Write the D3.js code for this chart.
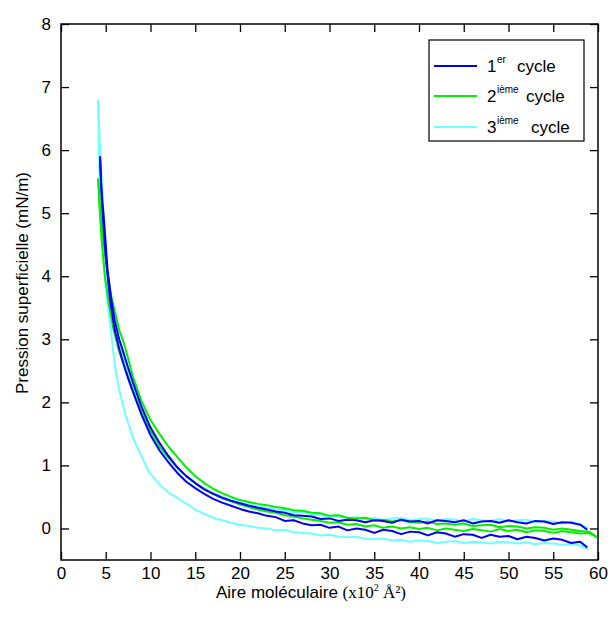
<!DOCTYPE html>
<html><head><meta charset="utf-8">
<script src="https://cdn.jsdelivr.net/npm/d3@7"></script>
<style>body{margin:0;background:#fff}svg{display:block}</style>
</head><body>
<svg id="chart" width="612" height="617"></svg>
<script>
// ---- data ----
const xTicks = [0,5,10,15,20,25,30,35,40,45,50,55,60];
const yTicks = [0,1,2,3,4,5,6,7,8];
const seriesNames = ["1er cycle","2ième cycle","3ième cycle"];
const seriesColors = ["#0000ff","#00f000","#70ffff"];

// cycle 1 (blue)
const cycle1Compression = [[4.36,5.9],[4.5,5.4],[4.8,4.9],[5.2,4.1],[5.6,3.65],[6,3.3],[6.5,3.0],[7,2.78],[7.5,2.55],[8,2.33],[9,1.93],[10,1.6],[11,1.36],[12,1.15],[13,0.97],[14,0.83],[15,0.72],[16,0.62],[17,0.55],[18,0.49],[19,0.44],
 [20,0.40],[21,0.36],[22,0.33],[23,0.30],[24,0.27],[25,0.25],[26,0.21],[27,0.20],[28,0.19],[29,0.15],[30,0.16],[31,0.12],[32,0.14],[33,0.13],[34,0.10],[35,0.13],[36,0.12],[37,0.09],[38,0.14],[39,0.11],[40,0.12],[41,0.08],[42,0.13],[43,0.12],[44,0.10],[45,0.13],[46,0.08],[47,0.11],[48,0.12],[49,0.09],[50,0.13],[51,0.10],[52,0.08],[53,0.12],[54,0.11],[55,0.07],[56,0.10],[57,0.09],[58,0.06],[58.8,-0.02]];
const cycle1Expansion = [[4.36,5.9],[4.6,5.1],[5,4.3],[5.5,3.6],[6,3.15],[6.5,2.85],[7,2.6],[7.5,2.38],[8,2.18],[9,1.8],[10,1.48],[11,1.24],[12,1.05],[13,0.88],[14,0.74],[15,0.64],[16,0.55],[17,0.47],[18,0.41],[19,0.36],
 [20,0.31],[21,0.27],[22,0.24],[23,0.20],[24,0.18],[25,0.12],[26,0.13],[27,0.08],[28,0.05],[29,0.06],[30,0.01],[31,0.03],[32,-0.03],[33,0.0],[34,-0.02],[35,-0.07],[36,-0.02],[37,-0.04],[38,-0.09],[39,-0.05],[40,-0.06],[41,-0.11],[42,-0.06],[43,-0.08],[44,-0.13],[45,-0.09],[46,-0.10],[47,-0.15],[48,-0.10],[49,-0.13],[50,-0.12],[51,-0.17],[52,-0.13],[53,-0.15],[54,-0.19],[55,-0.16],[56,-0.18],[57,-0.23],[58,-0.21],[58.8,-0.30]];

// cycle 2 (green)
const cycle2Compression = [[4.15,5.55],[4.4,5.0],[4.8,4.5],[5.2,4.05],[5.6,3.7],[6,3.45],[6.5,3.15],[7,2.95],[7.5,2.7],[8,2.42],[9,2.02],[10,1.72],[11,1.5],[12,1.3],[13,1.13],[14,0.97],[15,0.83],[16,0.72],[17,0.63],[18,0.56],[19,0.5],
 [20,0.45],[21,0.42],[22,0.39],[23,0.37],[24,0.34],[25,0.32],[26,0.29],[27,0.28],[28,0.25],[29,0.24],[30,0.20],[31,0.21],[32,0.17],[33,0.16],[34,0.17],[35,0.13],[36,0.14],[37,0.11],[38,0.13],[39,0.10],[40,0.09],[41,0.11],[42,0.07],[43,0.08],[44,0.06],[45,0.08],[46,0.04],[47,0.05],[48,0.06],[49,0.02],[50,0.04],[51,0.03],[52,0.0],[53,0.02],[54,0.01],[55,-0.02],[56,0.0],[57,-0.02],[58,-0.04],[59,-0.05],[59.9,-0.14]];
const cycle2Expansion = [[4.15,5.55],[4.3,5.1],[4.55,4.55],[4.9,4.0],[5.3,3.6],[5.8,3.2],[6.5,2.8],[7,2.6],[8,2.2],[9,1.85],[10,1.55],[11,1.3],[12,1.12],[13,0.96],[14,0.83],[15,0.72],[16,0.63],[17,0.55],[18,0.48],[19,0.43],
 [20,0.38],[21,0.34],[22,0.30],[23,0.27],[24,0.25],[25,0.21],[26,0.19],[27,0.16],[28,0.14],[29,0.12],[30,0.09],[31,0.10],[32,0.06],[33,0.07],[34,0.03],[35,0.05],[36,0.01],[37,0.03],[38,0.0],[39,0.02],[40,-0.01],[41,0.01],[42,-0.03],[43,0.0],[44,-0.02],[45,-0.04],[46,-0.01],[47,-0.03],[48,-0.05],[49,-0.01],[50,-0.04],[51,-0.02],[52,-0.06],[53,-0.03],[54,-0.04],[55,-0.07],[56,-0.04],[57,-0.06],[58,-0.08],[59,-0.07],[59.9,-0.14]];

// cycle 3 (cyan)
const cycle3Compression = [[4.15,6.8],[4.3,6.2],[4.45,5.8],[4.8,4.85],[5.3,3.84],[5.8,3.35],[6.5,2.9],[7,2.7],[7.5,2.47],[8,2.25],[9,1.87],[10,1.55],[11,1.31],[12,1.12],[13,0.96],[14,0.83],[15,0.72],[16,0.63],[17,0.56],[18,0.5],[19,0.45],
 [20,0.41],[21,0.38],[22,0.35],[23,0.33],[24,0.30],[25,0.29],[26,0.25],[27,0.26],[28,0.22],[29,0.21],[30,0.19],[31,0.20],[32,0.16],[33,0.18],[34,0.15],[35,0.17],[36,0.13],[37,0.16],[38,0.17],[39,0.13],[40,0.15],[41,0.16],[42,0.12],[43,0.15],[44,0.14],[45,0.11],[46,0.15],[47,0.13],[48,0.12],[49,0.15],[50,0.11],[51,0.13],[52,0.14],[53,0.10],[54,0.12],[55,0.11],[56,0.08],[57,0.11],[58,0.07],[58.9,0.0]];
const cycle3Expansion = [[4.15,6.8],[4.2,6.2],[4.3,5.6],[4.45,5.0],[4.7,4.4],[5,3.85],[5.3,3.45],[5.6,3.1],[6,2.6],[6.5,2.2],[7.15,1.83],[8,1.45],[8.5,1.3],[9.8,0.9],[11,0.7],[12,0.57],[13.3,0.46],[15,0.3],[17,0.17],[19,0.09],
 [20,0.06],[21,0.04],[22,0.01],[23,0.0],[24,-0.03],[25,-0.02],[26,-0.06],[27,-0.07],[28,-0.08],[29,-0.11],[30,-0.10],[31,-0.13],[32,-0.14],[33,-0.13],[34,-0.16],[35,-0.17],[36,-0.16],[37,-0.19],[38,-0.18],[39,-0.21],[40,-0.19],[41,-0.20],[42,-0.23],[43,-0.21],[44,-0.20],[45,-0.23],[46,-0.21],[47,-0.22],[48,-0.24],[49,-0.21],[50,-0.22],[51,-0.24],[52,-0.22],[53,-0.25],[54,-0.23],[55,-0.24],[56,-0.26],[57,-0.25],[58,-0.27],[58.9,-0.33]];

// ---- drawing ----
const svg = d3.select("#chart");
const M = {left:61, right:598, top:24, bottom:560};
const x = d3.scaleLinear().domain([0,60]).range([M.left, M.right]);
const y = d3.scaleLinear().domain([-0.5,8]).range([M.bottom, M.top]);
const sans = "'Liberation Sans', Arial, sans-serif";
const serif = "'Liberation Serif', 'Times New Roman', serif";

const line = d3.line().x(d=>x(d[0])).y(d=>y(d[1]));
const cycles = [
  {branches:[cycle1Compression, cycle1Expansion], color:seriesColors[0]},
  {branches:[cycle2Compression, cycle2Expansion], color:seriesColors[1]},
  {branches:[cycle3Compression, cycle3Expansion], color:seriesColors[2]}
];
svg.append("clipPath").attr("id","clip").append("rect")
  .attr("x",M.left).attr("y",M.top).attr("width",M.right-M.left).attr("height",M.bottom-M.top);
const plot = svg.append("g").attr("clip-path","url(#clip)");
// draw order: cyan, green, blue
[2,1,0].forEach(i=>{
  const c = cycles[i];
  c.branches.forEach(b=>{
    plot.append("path").attr("d", line(b)).attr("fill","none")
      .attr("stroke", c.color).attr("stroke-width",2).attr("stroke-linejoin","round");
  });
});

// axes with inward ticks
function styleAxis(g){
  g.select(".domain").remove();
  g.selectAll(".tick line").attr("stroke","#000").attr("stroke-width",1.3);
  g.selectAll(".tick text").attr("font-family",sans).attr("font-size",17).attr("fill","#000");
}
svg.append("g").attr("transform",`translate(0,${M.bottom})`)
  .call(d3.axisBottom(x).tickValues(xTicks).tickSize(-8).tickPadding(7).tickFormat(d3.format("d"))).call(styleAxis);
svg.append("g").attr("transform",`translate(0,${M.top})`)
  .call(d3.axisTop(x).tickValues(xTicks).tickSize(-8).tickFormat("")).call(styleAxis);
svg.append("g").attr("transform",`translate(${M.left},0)`)
  .call(d3.axisLeft(y).tickValues(yTicks).tickSize(-8).tickPadding(10).tickFormat(d3.format("d"))).call(styleAxis);
svg.append("g").attr("transform",`translate(${M.right},0)`)
  .call(d3.axisRight(y).tickValues(yTicks).tickSize(-8).tickFormat("")).call(styleAxis);

svg.append("rect").attr("x",M.left).attr("y",M.top).attr("width",M.right-M.left).attr("height",M.bottom-M.top)
  .attr("fill","none").attr("stroke","#000").attr("stroke-width",1.5);

// axis titles
const xt = svg.append("text").attr("x",311).attr("y",598).attr("text-anchor","middle")
  .attr("font-family",sans).attr("font-size",17).attr("fill","#000");
xt.append("tspan").text("Aire moléculaire ");
xt.append("tspan").attr("font-family",serif).text("(x10");
xt.append("tspan").attr("font-family",serif).attr("font-size",10).attr("dy",-7).text("2");
xt.append("tspan").attr("font-family",serif).attr("dy",7).text(" Å²)");

svg.append("text").attr("transform","translate(28,283) rotate(-90)").attr("text-anchor","middle")
  .attr("font-family",sans).attr("font-size",17).attr("fill","#000").text("Pression superficielle (mN/m)");

// legend
const lg = svg.append("g");
lg.append("rect").attr("x",429).attr("y",40).attr("width",155).attr("height",101)
  .attr("fill","#fff").attr("stroke","#000").attr("stroke-width",1.2);
const legendRows = [
  {num:"1", sup:"er", cycleX:517, cy:66},
  {num:"2", sup:"ième", cycleX:526, cy:96},
  {num:"3", sup:"ième", cycleX:531, cy:127}
];
legendRows.forEach((r,i)=>{
  lg.append("line").attr("x1",434).attr("x2",477).attr("y1",r.cy).attr("y2",r.cy)
    .attr("stroke",seriesColors[i]).attr("stroke-width",2);
  lg.append("text").attr("x",487).attr("y",r.cy+6).attr("font-family",sans).attr("font-size",17).text(r.num);
  lg.append("text").attr("x",497).attr("y",r.cy-3).attr("font-family",sans).attr("font-size",10).text(r.sup);
  lg.append("text").attr("x",r.cycleX).attr("y",r.cy+6).attr("font-family",sans).attr("font-size",17).text("cycle");
});
</script>
</body></html>
